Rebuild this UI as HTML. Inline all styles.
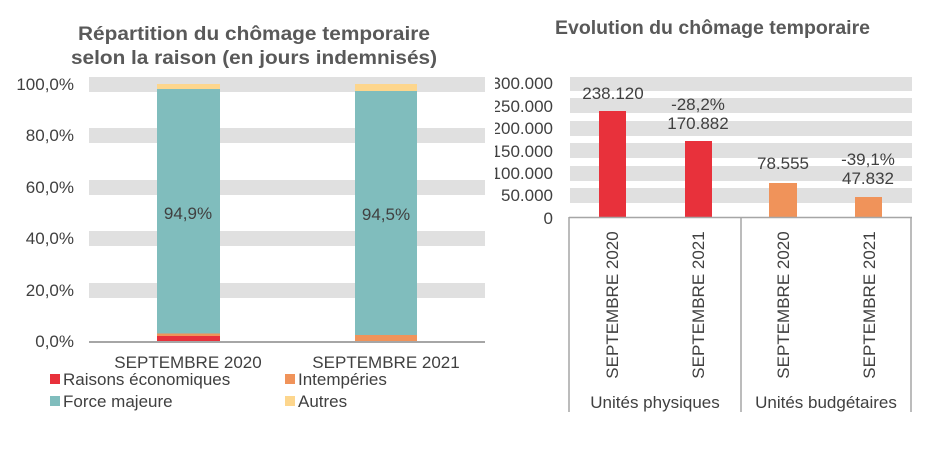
<!DOCTYPE html>
<html><head><meta charset="utf-8">
<style>
html,body{margin:0;padding:0;background:#fff;}
svg{display:block;font-family:"Liberation Sans",Arial,sans-serif;}
</style></head>
<body>
<svg width="945" height="450" viewBox="0 0 945 450" xmlns="http://www.w3.org/2000/svg">
<defs><clipPath id="rc"><rect x="495" y="0" width="450" height="450"/></clipPath></defs>
<!-- LEFT CHART -->
<g fill="#595959" font-weight="bold" font-size="19">
<text x="78" y="40" textLength="352" lengthAdjust="spacingAndGlyphs">Répartition du chômage temporaire</text>
<text x="71" y="64" textLength="366" lengthAdjust="spacingAndGlyphs">selon la raison (en jours indemnisés)</text>
</g>
<g fill="#e0e0e0">
<rect x="89" y="77" width="396" height="15"/>
<rect x="89" y="128" width="396" height="15"/>
<rect x="89" y="180" width="396" height="15"/>
<rect x="89" y="231" width="396" height="15"/>
<rect x="89" y="283" width="396" height="15"/>
</g>
<line x1="89" y1="342" x2="485" y2="342" stroke="#a6a6a6" stroke-width="2"/>
<g fill="#404040" font-size="17" text-anchor="end">
<text x="74" y="90">100,0%</text>
<text x="74" y="141">80,0%</text>
<text x="74" y="193">60,0%</text>
<text x="74" y="244">40,0%</text>
<text x="74" y="296">20,0%</text>
<text x="74" y="347">0,0%</text>
</g>
<!-- bar1 -->
<rect x="157" y="336" width="63" height="5" fill="#e8313b"/>
<rect x="157" y="333.5" width="63" height="2.5" fill="#f0935a"/>
<rect x="157" y="89" width="63" height="244.5" fill="#80bdbd"/>
<rect x="157" y="84" width="63" height="5" fill="#fdd68d"/>
<!-- bar2 -->
<rect x="355" y="335" width="62" height="6" fill="#f0935a"/>
<rect x="355" y="91" width="62" height="244" fill="#80bdbd"/>
<rect x="355" y="84" width="62" height="7" fill="#fdd68d"/>
<g fill="#404040" font-size="17" text-anchor="middle">
<text x="188" y="219">94,9%</text>
<text x="386" y="220">94,5%</text>
<text x="188" y="368">SEPTEMBRE 2020</text>
<text x="386" y="368">SEPTEMBRE 2021</text>
</g>
<rect x="50" y="374" width="10" height="10" fill="#e8313b"/>
<rect x="285" y="374" width="10" height="10" fill="#f0935a"/>
<rect x="50" y="396" width="10" height="10" fill="#80bdbd"/>
<rect x="285" y="396" width="10" height="10" fill="#fdd68d"/>
<g fill="#404040" font-size="17">
<text x="63" y="385">Raisons économiques</text>
<text x="298" y="385">Intempéries</text>
<text x="63" y="407">Force majeure</text>
<text x="298" y="407">Autres</text>
</g>
<!-- RIGHT CHART -->
<text x="555" y="34" fill="#595959" font-weight="bold" font-size="19" textLength="315" lengthAdjust="spacingAndGlyphs">Evolution du chômage temporaire</text>
<g fill="#e0e0e0">
<rect x="570" y="77" width="342" height="14"/>
<rect x="570" y="98" width="342" height="15"/>
<rect x="570" y="121" width="342" height="15"/>
<rect x="570" y="143" width="342" height="15"/>
<rect x="570" y="166" width="342" height="15"/>
<rect x="570" y="188" width="342" height="15"/>
</g>
<g clip-path="url(#rc)" fill="#404040" font-size="17" text-anchor="end">
<text x="553" y="89">300.000</text>
<text x="553" y="112">250.000</text>
<text x="553" y="134">200.000</text>
<text x="553" y="157">150.000</text>
<text x="553" y="179">100.000</text>
<text x="553" y="201">50.000</text>
<text x="553" y="224">0</text>
</g>
<rect x="599" y="111" width="27" height="106" fill="#e8313b"/>
<rect x="685" y="141" width="27" height="76" fill="#e8313b"/>
<rect x="769" y="183" width="28" height="34" fill="#f0935a"/>
<rect x="855" y="197" width="27" height="20" fill="#f0935a"/>
<g stroke="#a6a6a6" stroke-width="1.5" fill="none">
<line x1="569" y1="217.5" x2="912" y2="217.5"/>
<line x1="569" y1="217" x2="569" y2="412"/>
<line x1="741" y1="217" x2="741" y2="412"/>
<line x1="911" y1="217" x2="911" y2="412"/>
</g>
<g fill="#404040" font-size="17" text-anchor="middle">
<text x="613" y="99">238.120</text>
<text x="698" y="110">-28,2%</text>
<text x="698" y="129">170.882</text>
<text x="783" y="169">78.555</text>
<text x="868" y="165">-39,1%</text>
<text x="868" y="184">47.832</text>
<text transform="translate(618,305) rotate(-90)">SEPTEMBRE 2020</text>
<text transform="translate(704,305) rotate(-90)">SEPTEMBRE 2021</text>
<text transform="translate(789,305) rotate(-90)">SEPTEMBRE 2020</text>
<text transform="translate(875,305) rotate(-90)">SEPTEMBRE 2021</text>
<text x="655" y="408">Unités physiques</text>
<text x="826" y="408">Unités budgétaires</text>
</g>
</svg>
</body></html>
